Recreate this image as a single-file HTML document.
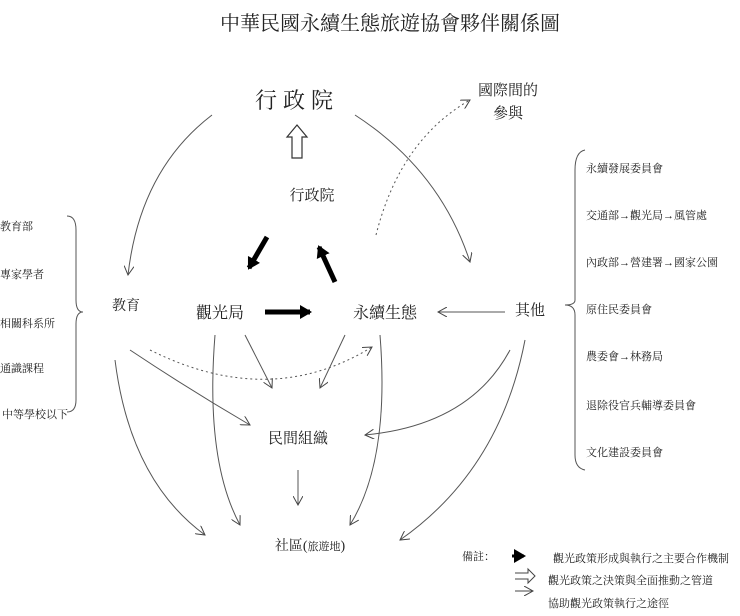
<!DOCTYPE html>
<html><head><meta charset="utf-8"><style>
body{margin:0;background:#fff;}
svg text{font-family:"Liberation Serif","Noto Serif CJK SC","Noto Sans CJK TC",serif;fill:#222;}
.s{font-family:"Liberation Sans","Noto Sans CJK TC",sans-serif;font-size:11px;fill:#333;}
</style></head><body>
<svg width="740" height="611" viewBox="0 0 740 611" xmlns="http://www.w3.org/2000/svg">
<defs>
<marker id="a" markerWidth="10" markerHeight="10" refX="9" refY="5" orient="auto" markerUnits="userSpaceOnUse"><path d="M0,0 L9,5 L0,10" fill="none" stroke="#444" stroke-width="1"/></marker>
<marker id="t" markerWidth="14" markerHeight="14" refX="10" refY="7" orient="auto" markerUnits="userSpaceOnUse"><path d="M0,0 L12,7 L0,14 Z" fill="#000"/></marker>
</defs>
<text x="390" y="30" font-size="20" text-anchor="middle">中華民國永續生態旅遊協會夥伴關係圖</text>
<text x="297" y="108" font-size="22" text-anchor="middle" letter-spacing="6">行政院</text>
<text x="508" y="95" font-size="15" text-anchor="middle">國際間的</text>
<text x="508" y="118" font-size="15" text-anchor="middle">參與</text>
<path d="M297,125 L307,137 L302,137 L302,158 L292,158 L292,137 L287,137 Z" fill="none" stroke="#333" stroke-width="1.2"/>
<text x="312" y="200" font-size="15" text-anchor="middle">行政院</text>
<text x="220" y="318" font-size="16" text-anchor="middle">觀光局</text>
<text x="385" y="318" font-size="16" text-anchor="middle">永續生態</text>
<text x="126" y="310" font-size="14" text-anchor="middle">教育</text>
<text x="530" y="315" font-size="15" text-anchor="middle">其他</text>
<text x="298" y="443" font-size="15" text-anchor="middle">民間組織</text>
<text x="310" y="550" font-size="14" text-anchor="middle">社區(<tspan font-size="11">旅遊地</tspan>)</text>
<g stroke="#000" stroke-width="5" fill="none">
<line x1="267" y1="237" x2="249" y2="268" marker-end="url(#t)"/>
<line x1="335" y1="282" x2="319" y2="247" marker-end="url(#t)"/>
<line x1="265" y1="312" x2="310" y2="312" marker-end="url(#t)"/>
</g>
<g stroke="#555" stroke-width="1" fill="none" marker-end="url(#a)">
<path d="M212,115 Q140,170 128,275"/>
<path d="M355,115 Q440,170 470,262"/>
<path d="M376,235 Q400,140 470,100" stroke-dasharray="2,3"/>
<path d="M505,312 L438,312"/>
<path d="M150,350 Q270,410 372,347" stroke-dasharray="2,3"/>
<path d="M245,335 L272,388"/>
<path d="M345,335 L320,388"/>
<path d="M130,350 Q190,390 250,425"/>
<path d="M510,350 Q470,425 365,435"/>
<path d="M298,470 L298,505"/>
<path d="M115,360 Q130,480 205,535"/>
<path d="M215,335 Q205,460 240,525"/>
<path d="M380,335 Q390,460 350,525"/>
<path d="M525,340 Q500,470 400,540"/>
</g>
<path d="M67,216 Q76,216 76,230 L76,300 Q76,312 83,312 Q76,312 76,324 L76,400 Q76,412 67,412" fill="none" stroke="#555"/>
<path d="M585,150 Q575,152 575,170 L575,300 Q575,305 565,305 Q575,305 575,315 L575,455 Q575,468 585,470" fill="none" stroke="#555"/>
<g class="s">
<text x="0" y="230">教育部</text>
<text x="0" y="278">專家學者</text>
<text x="0" y="327">相關科系所</text>
<text x="0" y="372">通識課程</text>
<text x="2" y="418">中等學校以下</text>
<text x="586" y="172">永續發展委員會</text>
<text x="586" y="219">交通部→觀光局→風管處</text>
<text x="586" y="266">內政部→營建署→國家公園</text>
<text x="586" y="313">原住民委員會</text>
<text x="586" y="360">農委會→林務局</text>
<text x="586" y="409">退除役官兵輔導委員會</text>
<text x="586" y="456">文化建設委員會</text>
<text x="462" y="560">備註：</text>
<text x="553" y="562">觀光政策形成與執行之主要合作機制</text>
<text x="548" y="584">觀光政策之決策與全面推動之管道</text>
<text x="548" y="607">協助觀光政策執行之途徑</text>
</g>
<line x1="512" y1="556" x2="524" y2="556" stroke="#000" stroke-width="3" marker-end="url(#t)"/>
<path d="M515,573 L528,573 L528,569 L535,576 L528,583 L528,579 L515,579" fill="none" stroke="#444"/>
<path d="M515,591 L533,591" stroke="#444" marker-end="url(#a)"/>
</svg>
</body></html>
